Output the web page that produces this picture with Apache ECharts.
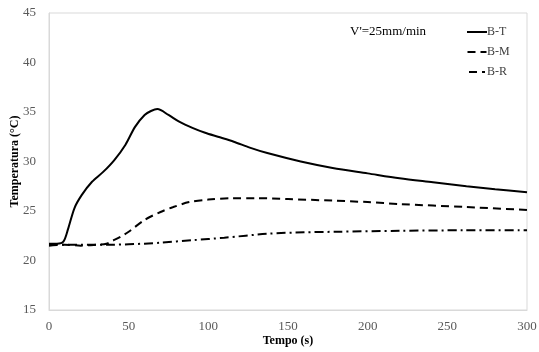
<!DOCTYPE html>
<html><head><meta charset="utf-8">
<script src="https://cdn.jsdelivr.net/npm/echarts@6/dist/echarts.min.js"></script>
<style>html,body{margin:0;padding:0;background:#fff}#c{width:539px;height:352px}</style>
</head><body><div id="c"></div>
<script>
const seriesNames = ['B-T', 'B-M', 'B-R'];
const bT_x = [0,5,9,12,16,20.5,27,34,41,48,54,60,64,68,75,82,90,98,106,116,126,137,158,178,200,220,241,262,280,300];
const bT_y = [21.7,21.7,21.9,23.2,25.3,26.6,27.95,28.95,30.15,31.7,33.5,34.7,35.1,35.3,34.7,34.0,33.4,32.9,32.5,32.0,31.4,30.85,30.0,29.35,28.8,28.3,27.9,27.5,27.2,26.9];
const bM_x = [0,10,20,30,36,40,45,50,60,70,78,88,100,115,130,150,178,200,220,262,300];
const bM_y = [21.5,21.6,21.5,21.6,21.7,22.0,22.4,22.9,24.1,24.9,25.4,25.9,26.15,26.3,26.3,26.2,26.05,25.9,25.7,25.4,25.1];
const bR_x = [0,20,40,60,70,90,110,137,160,180,220,260,300];
const bR_y = [21.6,21.6,21.6,21.7,21.8,22.05,22.3,22.7,22.85,22.9,23.0,23.05,23.05];
const annotation = "V'=25mm/min";
const xTitle = 'Tempo (s)';
const yTitle = 'Temperatura (°C)';

const zip = (xs, ys) => xs.map((x, i) => [x, ys[i]]);
const font = 'Liberation Serif, Times New Roman, serif';
const chart = echarts.init(document.getElementById('c'));
const mk = (name, data, type) => ({
  name, type: 'line', data, smooth: 0.3, showSymbol: false, symbol: 'none',
  lineStyle: { color: '#000', width: 2, type },
  itemStyle: { color: '#000' }
});
const icons = [
  'path://M0,0h20v2H0z',
  'path://M0,0h8v2H0zM13,0h6v2H13z',
  'path://M0,0h8v2H0zM13,0h3v2H13z'
];
chart.setOption({
  animation: false,
  grid: { left: 49, right: 12, top: 13, bottom: 42, show: true, borderColor: '#d9d9d9', borderWidth: 1, containLabel: false, outerBoundsMode: 'none' },
  xAxis: {
    type: 'value', min: 0, max: 300, interval: 50,
    name: xTitle, nameLocation: 'middle', nameGap: 25, nameMoveOverlap: false,
    nameTextStyle: { fontFamily: font, fontWeight: 'bold', fontSize: 12, color: '#000' },
    axisLine: { show: true, lineStyle: { color: '#d9d9d9' } },
    axisTick: { show: false },
    splitLine: { show: false },
    axisLabel: { fontFamily: font, fontSize: 13, color: '#595959', margin: 10 }
  },
  yAxis: {
    type: 'value', min: 15, max: 45, interval: 5,
    name: yTitle, nameLocation: 'middle', nameGap: 28, nameRotate: 90, nameMoveOverlap: false,
    nameTextStyle: { fontFamily: font, fontWeight: 'bold', fontSize: 12, color: '#000' },
    axisLine: { show: true, lineStyle: { color: '#d9d9d9' } },
    axisTick: { show: false },
    splitLine: { show: false },
    axisLabel: { fontFamily: font, fontSize: 13, color: '#595959', margin: 13 }
  },
  legend: {
    orient: 'vertical', left: 467, top: 26, padding: 0, itemWidth: 20, itemHeight: 2, itemGap: 8,
    textStyle: { fontFamily: font, fontSize: 12, color: '#404040', padding: [0,0,0,-5] },
    data: seriesNames.map((n, i) => ({ name: n, icon: icons[i] }))
  },
  graphic: [{
    type: 'text', left: 350, top: 25,
    style: { text: annotation, font: '13px ' + font, fill: '#000' }
  }],
  series: [
    mk(seriesNames[0], zip(bT_x, bT_y), 'solid'),
    mk(seriesNames[1], zip(bM_x, bM_y), [8, 5]),
    mk(seriesNames[2], zip(bR_x, bR_y), [9, 4, 2, 4])
  ]
});
</script></body></html>
